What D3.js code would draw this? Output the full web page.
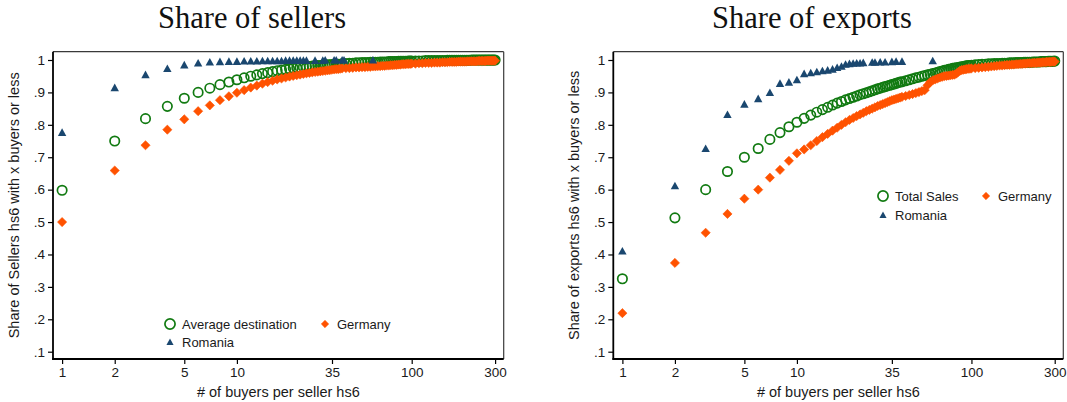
<!DOCTYPE html>
<html>
<head>
<meta charset="utf-8">
<script src="https://cdn.jsdelivr.net/npm/d3@7/dist/d3.min.js"></script>
<style>
  html, body { margin: 0; padding: 0; background: #ffffff; }
  svg { display: block; }
</style>
</head>
<body>
<svg id="chart" width="1067" height="402"></svg>
<script>
// ---------------- DATA ----------------
const titles = ["Share of sellers", "Share of exports"];
const yTitles = ["Share of Sellers hs6 with x buyers or less", "Share of exports hs6 with x buyers or less"];
const xTitle = "# of buyers per seller hs6";
const xTicks = [1, 2, 5, 10, 35, 100, 300];
const yTicks = [0.1, 0.2, 0.3, 0.4, 0.5, 0.6, 0.7, 0.8, 0.9, 1];
const yTickLabels = [".1", ".2", ".3", ".4", ".5", ".6", ".7", ".8", ".9", "1"];

// number of buyers (x) for the dense series
const buyersGrid = [1,2,3,4,5,6,7,8,9,10,11,12,13,14,15,16,17,18,19,20,
  21,22,23,24,25,26,27,28,29,30,31,32,33,34,35,36,37,38,39,40,
  42,44,46,48,50,52,54,56,58,60,62,64,66,68,70,72,74,76,78,80,
  82,84,86,88,90,92,94,96,98,100,
  105,110,115,120,125,130,135,140,145,150,155,160,165,170,175,180,185,190,195,200,
  205,210,215,220,225,230,235,240,245,250,255,260,265,270,275,280,285,290,295,300];

// Panel 1: share of sellers
const sellersAverage = [.598,.750,.819,.857,.882,.900,.913,.924,.932,.939,.945,.950,.954,.958,.961,.964,.967,.969,.971,.973,
  .975,.976,.977,.978,.979,.980,.981,.982,.983,.983,.984,.984,.985,.985,.986,.986,.987,.987,.987,.988,
  .989,.990,.990,.991,.991,.992,.992,.992,.993,.993,.993,.993,.994,.994,.994,.994,.995,.995,.995,.995,
  .995,.996,.996,.996,.996,.996,.996,.997,.997,.997,
  .997,.997,.997,.998,.998,.998,.998,.998,.998,.998,.998,.999,.999,.999,.999,.999,.999,.999,.999,.999,
  .999,.999,.999,1,1,1,1,1,1,1,1,1,1,1,1,1,1,1,1,1];
const sellersGermany = [.500,.659,.737,.785,.817,.842,.860,.876,.888,.899,.907,.915,.921,.927,.932,.936,.940,.943,.946,.949,
  .951,.953,.955,.957,.959,.960,.962,.963,.964,.965,.966,.967,.968,.969,.970,.971,.972,.972,.973,.974,
  .975,.975,.976,.977,.977,.978,.978,.979,.979,.980,.980,.981,.981,.982,.982,.983,.983,.984,.984,.985,
  .985,.986,.986,.987,.987,.987,.988,.988,.988,.989,
  .989,.990,.990,.991,.991,.991,.992,.992,.992,.993,.993,.993,.994,.994,.994,.994,.995,.995,.995,.995,
  .995,.996,.996,.996,.996,.996,.996,.997,.997,.997,.997,.997,.997,.998,.998,.998,.998,.998,.998,.998];
const sellersRomaniaBuyers = [1,2,3,4,5,6,7,8,9,10,11,12,13,14,15,16,17,18,19,20,21,22,23,24,25,28,31,32,36,37,40,41,60];
const sellersRomania = [.777,.915,.955,.974,.985,.991,.994,.995,.996,.996,.997,.997,.997,.998,.998,.998,.998,.998,.999,.999,
  .999,.999,.999,.999,.999,.999,.999,1,1,1,1,1,1];

// Panel 2: share of exports
const exportsTotal = [.325,.513,.600,.656,.700,.727,.755,.776,.794,.808,.820,.830,.839,.847,.854,.861,.867,.872,.877,.881,
  .885,.889,.893,.896,.899,.902,.905,.908,.911,.913,.916,.918,.920,.922,.924,.926,.928,.930,.932,.933,
  .936,.939,.942,.945,.947,.950,.952,.954,.956,.958,.960,.962,.964,.966,.968,.969,.971,.972,.974,.975,
  .976,.977,.978,.979,.980,.981,.982,.983,.983,.984,
  .985,.986,.987,.987,.988,.988,.989,.989,.989,.990,.990,.990,.991,.991,.991,.992,.992,.992,.992,.993,
  .993,.993,.993,.993,.994,.994,.994,.994,.994,.995,.995,.995,.995,.995,.996,.996,.996,.996,.996,.997];
const exportsGermany = [.219,.374,.467,.525,.572,.600,.637,.661,.689,.712,.724,.737,.750,.762,.772,.782,.791,.800,.808,.815,
  .821,.827,.832,.837,.842,.846,.850,.854,.858,.861,.864,.867,.870,.873,.876,.878,.880,.882,.884,.886,
  .889,.892,.895,.898,.901,.904,.907,.922,.932,.937,.940,.943,.946,.948,.950,.951,.952,.953,.954,.955,
  .958,.963,.967,.969,.970,.971,.972,.973,.973,.974,
  .975,.976,.977,.978,.979,.980,.981,.982,.983,.983,.984,.985,.985,.986,.986,.987,.987,.988,.988,.989,
  .989,.990,.990,.990,.991,.991,.991,.992,.992,.992,.993,.993,.993,.994,.994,.994,.994,.995,.995,.995];
const exportsRomaniaBuyers = [1,2,3,4,5,6,7,8,9,10,11,12,13,14,15,16,17,18,19,20,21,22,23,24,27,28,30,32,35,37,40,60];
const exportsRomania = [.411,.612,.727,.832,.864,.881,.900,.928,.932,.939,.958,.961,.964,.967,.969,.972,.977,.981,.987,.989,
  .990,.991,.991,.992,.993,.993,.994,.994,.995,.996,.996,.998];

const legendLabels = [["Average destination", "Germany", "Romania"], ["Total Sales", "Germany", "Romania"]];

// ---------------- STYLE / LAYOUT ----------------
const GREEN = "#117a11", ORANGE = "#ff5200", NAVY = "#1a476f";
const FONT = "'Liberation Sans', Arial, sans-serif";
const TEXT = "#1a1a1a";

const panels = [
  { x0: 53, x1: 503.7, titleX: 252, yTitleX: 14,
    series: [
      { xs: buyersGrid, ys: sellersAverage, kind: "circle" },
      { xs: buyersGrid, ys: sellersGermany, kind: "diamond" },
      { xs: sellersRomaniaBuyers, ys: sellersRomania, kind: "triangle" }
    ],
    legend: { x: 170, y: 324, col2: 325, row2: 342 }
  },
  { x0: 613.3, x1: 1063.3, titleX: 812, yTitleX: 574,
    series: [
      { xs: buyersGrid, ys: exportsTotal, kind: "circle" },
      { xs: buyersGrid, ys: exportsGermany, kind: "diamond" },
      { xs: exportsRomaniaBuyers, ys: exportsRomania, kind: "triangle" }
    ],
    legend: { x: 883, y: 196, col2: 986, row2: 215 }
  }
];
const yTop = 51.7, yBottom = 359;

const svg = d3.select("#chart");
svg.append("rect").attr("width", 1067).attr("height", 402).attr("fill", "#fff");

function drawMarker(g, kind, cx, cy, scale) {
  const s = scale || 1;
  if (kind === "circle") {
    g.append("circle").attr("cx", cx).attr("cy", cy).attr("r", 4.7 * s)
      .attr("fill", "none").attr("stroke", GREEN).attr("stroke-width", 1.7);
  } else if (kind === "diamond") {
    const h = 4.6 * s;
    g.append("path").attr("d", `M${cx},${cy - h}L${cx + h},${cy}L${cx},${cy + h}L${cx - h},${cy}Z`)
      .attr("fill", ORANGE).attr("stroke", ORANGE).attr("stroke-width", 0.6).attr("stroke-linejoin", "round");
  } else {
    const w = 4.2 * s, hh = 3.6 * s;
    g.append("path").attr("d", `M${cx},${cy - hh - 0.4}L${cx + w},${cy + hh}L${cx - w},${cy + hh}Z`)
      .attr("fill", NAVY);
  }
}

panels.forEach((p, pi) => {
  const x = d3.scaleLog().domain([0.887, 336]).range([p.x0, p.x1]);
  const y = d3.scaleLinear().domain([0.0775, 1.0256]).range([yBottom, yTop]);
  const g = svg.append("g");

  // plot region frame (top/right thin)
  g.append("line").attr("x1", p.x0).attr("x2", p.x1).attr("y1", yTop).attr("y2", yTop)
    .attr("stroke", "#3a3a3a").attr("stroke-width", 1.2);
  g.append("line").attr("x1", p.x1).attr("x2", p.x1).attr("y1", yTop).attr("y2", yBottom)
    .attr("stroke", "#3a3a3a").attr("stroke-width", 1.2);

  // series
  p.series.forEach(s => {
    const sg = g.append("g");
    s.xs.forEach((xv, i) => drawMarker(sg, s.kind, x(xv), y(s.ys[i]), 1));
  });

  // axes
  const yAxis = d3.axisLeft(y).tickValues(yTicks).tickSize(5).tickPadding(3)
    .tickFormat((d, i) => yTickLabels[i]);
  const ya = g.append("g").attr("transform", `translate(${p.x0},0)`).call(yAxis);
  const xAxis = d3.axisBottom(x).tickValues(xTicks).tickSize(5).tickPadding(3).tickFormat(d3.format("d"));
  const xa = g.append("g").attr("transform", `translate(0,${yBottom})`).call(xAxis);
  [ya, xa].forEach(a => {
    a.select(".domain").remove();
    a.selectAll(".tick line").attr("stroke", "#000").attr("stroke-width", 1.2);
    a.selectAll(".tick text").attr("font-family", FONT).attr("font-size", 13.5).attr("fill", TEXT);
  });
  g.append("line").attr("x1", p.x0).attr("x2", p.x0).attr("y1", yTop).attr("y2", yBottom + 0.8)
    .attr("stroke", "#000").attr("stroke-width", 1.8);
  g.append("line").attr("x1", p.x0 - 0.9).attr("x2", p.x1).attr("y1", yBottom).attr("y2", yBottom)
    .attr("stroke", "#000").attr("stroke-width", 1.8);

  // titles
  g.append("text").attr("x", p.titleX).attr("y", 28).attr("text-anchor", "middle")
    .attr("font-family", "'Liberation Serif', 'Times New Roman', serif").attr("font-size", 30.5)
    .attr("fill", "#111").text(titles[pi]);
  g.append("text").attr("x", (p.x0 + p.x1) / 2).attr("y", 397).attr("text-anchor", "middle")
    .attr("font-family", FONT).attr("font-size", 14.5).attr("fill", TEXT).text(xTitle);
  g.append("text").attr("transform", `translate(${p.yTitleX + 5},${(yTop + yBottom) / 2}) rotate(-90)`)
    .attr("text-anchor", "middle").attr("font-family", FONT).attr("font-size", 14.5).attr("fill", TEXT)
    .text(yTitles[pi]);

  // legend
  const L = p.legend, lg = g.append("g");
  const items = [
    { kind: "circle", lx: L.x, ly: L.y, label: legendLabels[pi][0], sc: 1.08 },
    { kind: "diamond", lx: L.col2, ly: L.y, label: legendLabels[pi][1], sc: 0.8 },
    { kind: "triangle", lx: L.x, ly: L.row2, label: legendLabels[pi][2], sc: 0.85 }
  ];
  items.forEach(it => {
    drawMarker(lg, it.kind, it.lx, it.ly, it.sc);
    lg.append("text").attr("x", it.lx + 12).attr("y", it.ly + 4.8)
      .attr("font-family", FONT).attr("font-size", 13).attr("fill", TEXT).text(it.label);
  });
});
</script>
</body>
</html>
